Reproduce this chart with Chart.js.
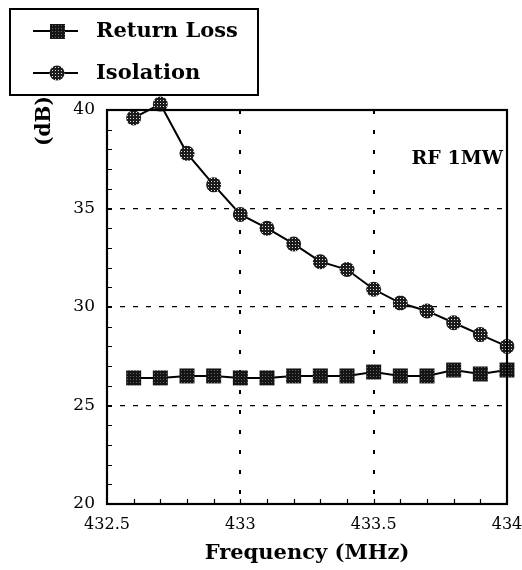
<!DOCTYPE html>
<html>
<head>
<meta charset="utf-8">
<script src="https://cdn.jsdelivr.net/npm/chart.js@4"></script>
<style>
  html, body { margin: 0; padding: 0; background: #fff; }
  #wrap { width: 522px; height: 570px; }
</style>
</head>
<body>
<div id="wrap"><canvas id="grafico" width="522" height="570"></canvas></div>
<script>
// dados
const frequencias = [432.6, 432.7, 432.8, 432.9, 433.0, 433.1, 433.2, 433.3, 433.4, 433.5, 433.6, 433.7, 433.8, 433.9, 434.0];
const returnLoss = [26.4, 26.4, 26.5, 26.5, 26.4, 26.4, 26.5, 26.5, 26.5, 26.7, 26.5, 26.5, 26.8, 26.6, 26.8];
const isolation = [39.6, 40.3, 37.8, 36.2, 34.7, 34.0, 33.2, 32.3, 31.9, 30.9, 30.2, 29.8, 29.2, 28.6, 28.0];
const xTicks = [432.5, 433, 433.5, 434];
const yTicks = [20, 25, 30, 35, 40];
const nomes = ['Return Loss', 'Isolation'];

const SERIF = '"DejaVu Serif", serif';

// padrão pontilhado para os marcadores
function criarPadrao(fundo, ponto, passo) {
    const c = document.createElement('canvas');
    c.width = passo; c.height = passo;
    const g = c.getContext('2d');
    g.fillStyle = fundo;
    g.fillRect(0, 0, passo, passo);
    g.fillStyle = ponto;
    g.fillRect(1, 1, 1, 1);
    return g.createPattern(c, 'repeat');
}
const padraoQuadrado = criarPadrao('#151515', '#666', 3);
const padraoCirculo = criarPadrao('#1c1c1c', '#e0e0e0', 3);

const molduraPlugin = {
    id: 'moldura',
    afterDraw(chart) {
        const ctx = chart.ctx;
        const a = chart.chartArea;
        const xs = chart.scales.x, ys = chart.scales.y;
        ctx.save();
        ctx.strokeStyle = '#000';
        ctx.setLineDash([]);

        // marcas menores
        ctx.lineWidth = 1.2;
        ctx.beginPath();
        for (let v = 21; v < 40; v++) {
            const py = Math.round(ys.getPixelForValue(v)) + 0.5;
            ctx.moveTo(a.left, py);
            ctx.lineTo(a.left + 5, py);
        }
        for (let i = 1; i < 15; i++) {
            const px = Math.round(xs.getPixelForValue(432.5 + i * 0.1)) + 0.5;
            ctx.moveTo(px, a.bottom);
            ctx.lineTo(px, a.bottom - 5);
        }
        ctx.stroke();

        // borda da área
        ctx.lineWidth = 2.2;
        ctx.strokeRect(a.left, a.top, a.right - a.left, a.bottom - a.top);

        // título do eixo y
        ctx.fillStyle = '#000';
        ctx.font = 'bold 20px ' + SERIF;
        ctx.translate(45, 121);
        ctx.rotate(-Math.PI / 2);
        ctx.textAlign = 'center';
        ctx.textBaseline = 'middle';
        ctx.fillText('(dB)', 0, 0);
        ctx.setTransform(1, 0, 0, 1, 0, 0);

        // anotação
        ctx.font = 'bold 19px ' + SERIF;
        ctx.textAlign = 'right';
        ctx.textBaseline = 'alphabetic';
        ctx.fillText('RF 1MW', a.right - 4, 164);

        // legenda
        ctx.fillStyle = '#fff';
        ctx.fillRect(10, 9, 248, 86);
        ctx.lineWidth = 2;
        ctx.strokeRect(10, 9, 248, 86);
        const linhasY = [31, 73];
        const ds = chart.data.datasets;
        linhasY.forEach((ly, i) => {
            ctx.lineWidth = 2;
            ctx.beginPath();
            ctx.moveTo(33, ly);
            ctx.lineTo(78, ly);
            ctx.stroke();
            ctx.fillStyle = ds[i].pointBackgroundColor;
            if (i === 0) {
                ctx.fillRect(50, ly - 7, 15, 15);
            } else {
                ctx.beginPath();
                ctx.arc(57, ly, 7.5, 0, Math.PI * 2);
                ctx.fill();
            }
            ctx.fillStyle = '#000';
            ctx.font = 'bold 21px ' + SERIF;
            ctx.textAlign = 'left';
            ctx.textBaseline = 'middle';
            ctx.fillText(nomes[i], 96, ly + 1);
        });
        ctx.restore();
    }
};

const ctx = document.getElementById('grafico').getContext('2d');
new Chart(ctx, {
    type: 'line',
    data: {
        datasets: [{
            label: nomes[0],
            data: frequencias.map((f, i) => ({ x: f, y: returnLoss[i] })),
            borderColor: '#000',
            borderWidth: 2,
            pointStyle: 'rect',
            pointRadius: 10.6,
            pointBorderWidth: 0,
            pointBackgroundColor: padraoQuadrado,
            pointBorderColor: 'transparent',
            tension: 0,
            clip: false
        }, {
            label: nomes[1],
            data: frequencias.map((f, i) => ({ x: f, y: isolation[i] })),
            borderColor: '#000',
            borderWidth: 2,
            pointStyle: 'circle',
            pointRadius: 7.5,
            pointBorderWidth: 0,
            pointBackgroundColor: padraoCirculo,
            pointBorderColor: 'transparent',
            tension: 0,
            clip: false
        }]
    },
    options: {
        responsive: false,
        animation: false,
        layout: { padding: { left: 0, top: 110, right: 15, bottom: 0 } },
        plugins: {
            legend: { display: false },
            tooltip: { enabled: false }
        },
        scales: {
            x: {
                type: 'linear',
                min: 432.5,
                max: 434,
                afterBuildTicks(scale) { scale.ticks = xTicks.map(v => ({ value: v })); },
                afterFit(scale) {
                    scale.height = 66;
                    scale.paddingLeft = 0;
                    scale.paddingRight = 0;
                },
                ticks: {
                    color: '#000',
                    font: { family: SERIF, size: 16 },
                    padding: 11,
                    maxRotation: 0,
                    callback: v => String(v)
                },
                grid: {
                    drawTicks: false,
                    color: c => (c.tick && (c.tick.value === 433 || c.tick.value === 433.5)) ? '#000' : 'transparent',
                    lineWidth: 2
                },
                border: { display: false, dash: [4, 16] },
                title: {
                    display: true,
                    text: 'Frequency (MHz)',
                    color: '#000',
                    font: { family: SERIF, size: 21, weight: 'bold' },
                    padding: { top: 0 }
                }
            },
            y: {
                min: 20,
                max: 40,
                afterBuildTicks(scale) { scale.ticks = yTicks.map(v => ({ value: v })); },
                afterFit(scale) {
                    scale.width = 107;
                    scale.paddingTop = 0;
                    scale.paddingBottom = 0;
                },
                ticks: {
                    color: '#000',
                    font: { family: SERIF, size: 17 },
                    padding: 12
                },
                grid: {
                    drawTicks: false,
                    color: c => (c.tick && c.tick.value > 20 && c.tick.value < 40) ? '#000' : 'transparent',
                    lineWidth: 1.3
                },
                border: { display: false, dash: [5, 8] }
            }
        }
    },
    plugins: [molduraPlugin]
});
</script>
</body>
</html>
